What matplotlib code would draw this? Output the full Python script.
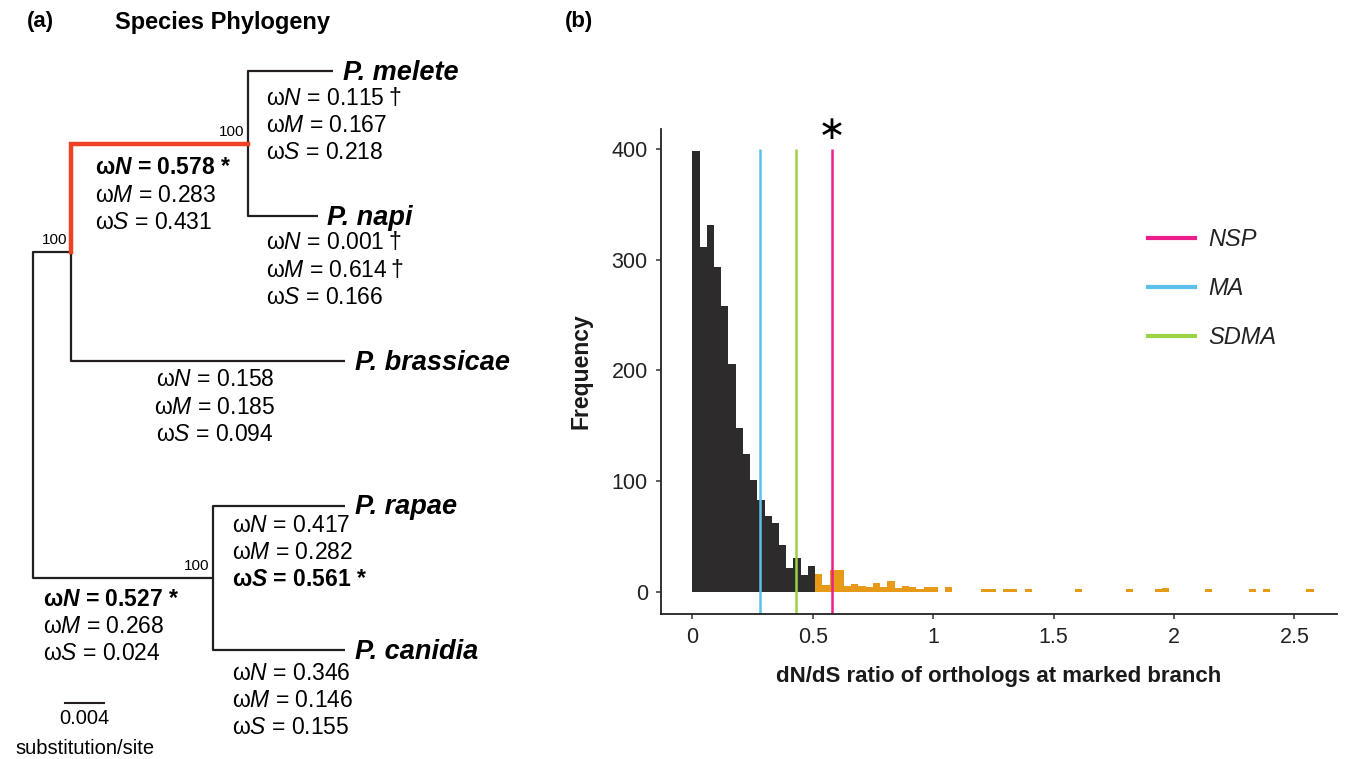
import numpy as np
import matplotlib
matplotlib.use("Agg")
import matplotlib.pyplot as plt
from matplotlib.lines import Line2D

plt.rcParams['font.family'] = ['Liberation Sans', 'DejaVu Sans']
plt.rcParams['mathtext.fontset'] = 'custom'
plt.rcParams['mathtext.rm'] = 'Liberation Sans'
plt.rcParams['mathtext.it'] = 'Liberation Sans:italic'
plt.rcParams['mathtext.bf'] = 'Liberation Sans:bold'
plt.rcParams['mathtext.bfit'] = 'Liberation Sans:bold:italic'

# ---------------- data ----------------
# histogram of dN/dS (bin width 0.03 from 0)
binwidth = 0.03
counts_below = [398, 311, 331, 293, 258, 206, 148, 124, 101, 83, 68, 62, 42, 21, 30, 15, 23]
counts_above = [16, 6, 20, 20, 5, 7, 5, 4, 8, 4,      # bins 17-26
                10, 3, 5, 4, 2, 4, 4, 0, 4, 0,        # 27-36
                0, 0, 0, 2, 2, 0, 2, 2, 0, 2,         # 37-46
                0, 0, 0, 0, 0, 0, 2, 0, 0, 0,         # 47-56
                0, 0, 0, 2, 0, 0, 0, 2, 3, 0,         # 57-66
                0, 0, 0, 0, 2, 0, 0, 0, 0, 0,         # 67-76
                2, 0, 2, 0, 0, 0, 0, 0, 2]            # 77-85
marker_names = ['NSP', 'MA', 'SDMA']
marker_values = [0.578, 0.283, 0.431]
marker_colors = ['#ED1E8C', '#5BC1EC', '#9CD245']
xticks = [0, 0.5, 1, 1.5, 2, 2.5]
xticklabels = ['0', '0.5', '1', '1.5', '2', '2.5']
yticks = [0, 100, 200, 300, 400]

# tree topology and omega values
tree = {'root': ['A', 'C'], 'A': ['B', 'P. brassicae'],
        'B': ['P. melete', 'P. napi'], 'C': ['P. rapae', 'P. canidia']}
omega = {
    'P. melete':    [('N', '0.115', '†', False), ('M', '0.167', '', False), ('S', '0.218', '', False)],
    'P. napi':      [('N', '0.001', '†', False), ('M', '0.614', '†', False), ('S', '0.166', '', False)],
    'B':            [('N', '0.578', '*', True), ('M', '0.283', '', False), ('S', '0.431', '', False)],
    'P. brassicae': [('N', '0.158', '', False), ('M', '0.185', '', False), ('S', '0.094', '', False)],
    'P. rapae':     [('N', '0.417', '', False), ('M', '0.282', '', False), ('S', '0.561', '*', True)],
    'C':            [('N', '0.527', '*', True), ('M', '0.268', '', False), ('S', '0.024', '', False)],
    'P. canidia':   [('N', '0.346', '', False), ('M', '0.146', '', False), ('S', '0.155', '', False)],
}
support = ['A', 'B', 'C']  # nodes with bootstrap 100
highlight = 'B'

# ---------------- layout (pixels) ----------------
W, H = 1347, 759
node_x = {'root': 33, 'A': 71, 'B': 248, 'C': 213, 'P. melete': 333, 'P. napi': 318,
          'P. brassicae': 345, 'P. rapae': 345, 'P. canidia': 345}
tip_y = {'P. melete': 71, 'P. napi': 216, 'P. brassicae': 361, 'P. rapae': 505.5, 'P. canidia': 650}
label_x = {'P. melete': 343, 'P. napi': 327, 'P. brassicae': 355, 'P. rapae': 355, 'P. canidia': 355}
block_pos = {'P. melete': (266, 98, 'left'), 'P. napi': (266, 243, 'left'), 'B': (95, 168, 'left'),
             'P. brassicae': (215, 380, 'center'), 'P. rapae': (232, 525, 'left'),
             'C': (43, 599, 'left'), 'P. canidia': (232, 673, 'left')}


def get_y(n):
    if n in tip_y:
        return tip_y[n]
    ys = [get_y(c) for c in tree[n]]
    return (min(ys) + max(ys)) / 2


fig = plt.figure(figsize=(W / 100, H / 100), dpi=100)

# ---------------- panel (a): tree ----------------
ax0 = fig.add_axes([0, 0, 1, 1])
ax0.set_xlim(0, W)
ax0.set_ylim(H, 0)
ax0.axis('off')

tree_col = '#231F20'
red = '#EF4123'
for p, kids in tree.items():
    for c in kids:
        xs = [node_x[p], node_x[p], node_x[c]]
        ys = [get_y(p), get_y(c), get_y(c)]
        ax0.plot(xs, ys, color=tree_col, lw=1.6, solid_capstyle='butt')
for p, kids in tree.items():
    if highlight in kids:
        ax0.plot([node_x[p], node_x[p], node_x[highlight]],
                 [get_y(p), get_y(highlight), get_y(highlight)],
                 color=red, lw=3.2, solid_capstyle='projecting', solid_joinstyle='miter')

for n in support:
    ax0.text(node_x[n] - 4, get_y(n) - 8, '100', fontsize=11, ha='right', va='baseline')

for n, x in label_x.items():
    ax0.text(x, tip_y[n] + 9, n, fontsize=19.5, fontweight='bold', fontstyle='italic',
             ha='left', va='baseline')

for n, rows in omega.items():
    x, y0, ha = block_pos[n]
    for i, (let, val, mark, bold) in enumerate(rows):
        if bold:
            s = 'ω$\\mathbfit{%s}$ = %s' % (let, val)
        else:
            s = 'ω$\\mathit{%s}$ = %s' % (let, val)
        if mark:
            s += ('\u2009' if mark == '†' else ' ') + mark
        ax0.text(x, y0 + i * 27.3, s, fontsize=16.5, ha=ha, va='center',
                 fontweight='bold' if bold else 'normal')

# scale bar
ax0.plot([65, 104], [702.5, 702.5], color=tree_col, lw=1.5)
ax0.text(84, 719, '0.004', fontsize=14.5, ha='center', va='center')
ax0.text(85, 748, 'substitution/site', fontsize=14.5, ha='center', va='center')

ax0.text(40, 22, '(a)', fontsize=16, fontweight='bold', ha='center', va='center')
ax0.text(115, 22, 'Species Phylogeny', fontsize=17, fontweight='bold', ha='left', va='center')
ax0.text(579, 22, '(b)', fontsize=16, fontweight='bold', ha='center', va='center')

# ---------------- panel (b): histogram ----------------
ax = fig.add_axes([661 / W, 1 - 613.7 / H, (1337 - 661) / W, (613.7 - 129) / H])
edges_below = np.arange(len(counts_below)) * binwidth
edges_above = (np.arange(len(counts_above)) + len(counts_below)) * binwidth
ax.bar(edges_below, counts_below, width=binwidth, align='edge', color='#2D2B2C', linewidth=0)
ax.bar(edges_above, counts_above, width=binwidth, align='edge', color='#E69A17', linewidth=0)

handles = []
for name, val, col in zip(marker_names, marker_values, marker_colors):
    ax.vlines(val, -25, 400, color=col, lw=1.8)
    handles.append(Line2D([], [], color=col, lw=3))
ax.text(marker_values[0], 417, '∗', fontsize=24, ha='center', va='center',
        family='DejaVu Sans', clip_on=False)

ax.set_xlim(-0.13, 2.677)
ax.set_ylim(-19.9, 417.9)
ax.set_xticks(xticks)
ax.set_xticklabels(xticklabels)
ax.set_yticks(yticks)
for s in ['top', 'right']:
    ax.spines[s].set_visible(False)
for s in ['left', 'bottom']:
    ax.spines[s].set_linewidth(1.3)
    ax.spines[s].set_color('#222222')
ax.tick_params(length=3.5, width=1.1, color='#333333', labelsize=15.5,
               labelcolor='#222222', pad=6)
ax.set_xlabel('dN/dS ratio of orthologs at marked branch', fontsize=16, fontweight='bold',
              labelpad=13, color='#1a1a1a')
ax.set_ylabel('Frequency', fontsize=16.5, fontweight='bold', labelpad=14, color='#1a1a1a')

leg = fig.legend(handles, marker_names, loc='upper left',
                 bbox_to_anchor=(1148 / W, 1 - 228 / H), frameon=False,
                 fontsize=17, handlelength=2.0, handletextpad=0.55, labelspacing=1.1,
                 borderpad=0, borderaxespad=0)
for t in leg.get_texts():
    t.set_fontstyle('italic')
    t.set_color('#222222')

fig.savefig('out.png', dpi=100)
